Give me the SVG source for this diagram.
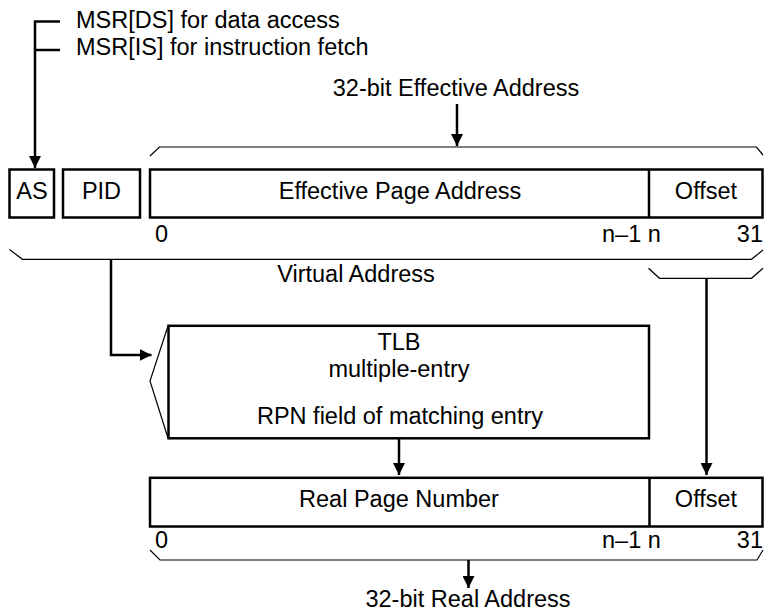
<svg xmlns="http://www.w3.org/2000/svg" width="764" height="614" viewBox="0 0 764 614">
<style>
text{font-family:"Liberation Sans",Arial,sans-serif;font-size:23.5px;fill:#000}
.m{text-anchor:middle}
.e{text-anchor:end}
.box{fill:#fff;stroke:#000;stroke-width:2.5}
.thin{fill:none;stroke:#000;stroke-width:1.2}
.ln{fill:none;stroke:#000;stroke-width:2.5}
</style>
<defs>
<marker id="ah" viewBox="0 0 12 12" refX="12" refY="6" markerWidth="12" markerHeight="12" markerUnits="userSpaceOnUse" orient="auto">
<path d="M0,0 L12,6 L0,12 Z" fill="#000"/>
</marker>
</defs>
<rect width="764" height="614" fill="#fff"/>
<g id="msr-labels">
<text x="76" y="28">MSR[DS] for data access</text>
<text x="76" y="55">MSR[IS] for instruction fetch</text>
</g>
<g id="ea-label"><text class="m" x="456" y="96">32-bit Effective Address</text></g>
<g id="as"><rect class="box" x="9.5" y="169.5" width="44.5" height="48"/><text class="m" x="32" y="199">AS</text></g>
<g id="pid"><rect class="box" x="63" y="169.5" width="77" height="48"/><text class="m" x="101.5" y="199">PID</text></g>
<g id="ea">
<rect class="box" x="150" y="169.5" width="612.5" height="48"/>
<line class="ln" x1="649" y1="169.5" x2="649" y2="217.5"/>
<text class="m" x="400" y="199">Effective Page Address</text>
<text class="m" x="706" y="199">Offset</text>
<text x="155" y="242">0</text>
<text x="602" y="241.5">n–1 n</text>
<text class="e" x="763" y="241.5">31</text>
</g>
<g id="va-label"><text class="m" x="356" y="281.5">Virtual Address</text></g>
<g id="tlb">
<rect class="box" x="168.5" y="325.8" width="480.5" height="112.5"/>
<polyline class="thin" points="168,326 150,381 168,438"/>
<text class="m" x="399" y="350">TLB</text>
<text class="m" x="399" y="377">multiple-entry</text>
<text class="m" x="400" y="424">RPN field of matching entry</text>
</g>
<g id="ra">
<rect class="box" x="150" y="477.8" width="612.5" height="48.7"/>
<line class="ln" x1="649.5" y1="477.8" x2="649.5" y2="526.5"/>
<text class="m" x="399" y="507">Real Page Number</text>
<text class="m" x="706" y="507">Offset</text>
<text x="155" y="548">0</text>
<text x="602" y="548">n–1 n</text>
<text class="e" x="763" y="548">31</text>
</g>
<g id="ra-label"><text class="m" x="468" y="607">32-bit Real Address</text></g>
<g id="connectors">
<polyline class="ln" points="60,21.5 35,21.5 35,168" marker-end="url(#ah)"/>
<line class="ln" x1="35" y1="50" x2="60" y2="50"/>
<line class="ln" x1="457" y1="104" x2="457" y2="146" marker-end="url(#ah)"/>
<polyline class="thin" points="150,156 159.5,147 756.5,147 763,155"/>
<polyline class="thin" points="9.5,249.5 22.5,259.3 751.5,259.3 763,250"/>
<polyline class="thin" points="648.5,268.3 659.5,278.3 751.5,278.3 763,268.3"/>
<polyline class="ln" points="111,259.3 111,355 151.5,355" marker-end="url(#ah)"/>
<line class="ln" x1="706.5" y1="278.3" x2="706.5" y2="475" marker-end="url(#ah)"/>
<line class="ln" x1="399" y1="438.3" x2="399" y2="475" marker-end="url(#ah)"/>
<polyline class="thin" points="150,550 160,560 757,560 763,550"/>
<line class="ln" x1="468.5" y1="560" x2="468.5" y2="588" marker-end="url(#ah)"/>
</g>
</svg>
